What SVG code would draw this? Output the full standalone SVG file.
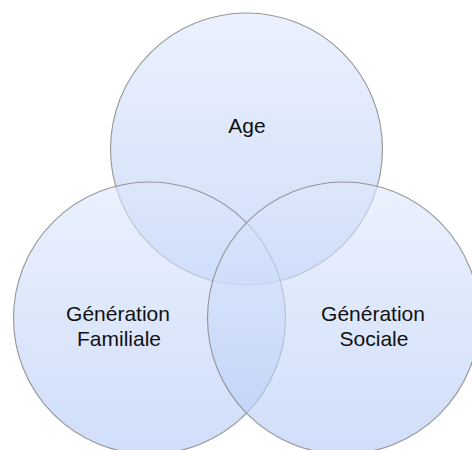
<svg xmlns="http://www.w3.org/2000/svg" width="472" height="450" viewBox="0 0 472 450">
  <defs>
    <linearGradient id="g" x1="0" y1="0" x2="0" y2="1">
      <stop offset="0" stop-color="#dfe8fc"/>
      <stop offset="1" stop-color="#b3caf7"/>
    </linearGradient>
  </defs>
  <style>
    .c { fill: url(#g); fill-opacity: 0.62; stroke: #8c8c8c; stroke-width: 1.1; stroke-opacity: 0.9; }
    .t { font-family: "Liberation Sans", Arial, sans-serif; font-size: 21px; fill: #111111; text-anchor: middle; }
  </style>
  <rect width="472" height="450" fill="#ffffff"/>
  <g id="age">
    <circle class="c" cx="246.5" cy="149" r="136"/>
  </g>
  <g id="familiale">
    <circle class="c" cx="149.5" cy="318" r="136"/>
  </g>
  <g id="sociale">
    <circle class="c" cx="343.5" cy="318" r="136"/>
  </g>
  <g id="labels">
    <text class="t" x="247" y="133">Age</text>
    <text class="t" x="118" y="321">Génération</text>
    <text class="t" x="119" y="346">Familiale</text>
    <text class="t" x="373" y="321">Génération</text>
    <text class="t" x="374" y="346">Sociale</text>
  </g>
  <g id="connectors"/>
</svg>
